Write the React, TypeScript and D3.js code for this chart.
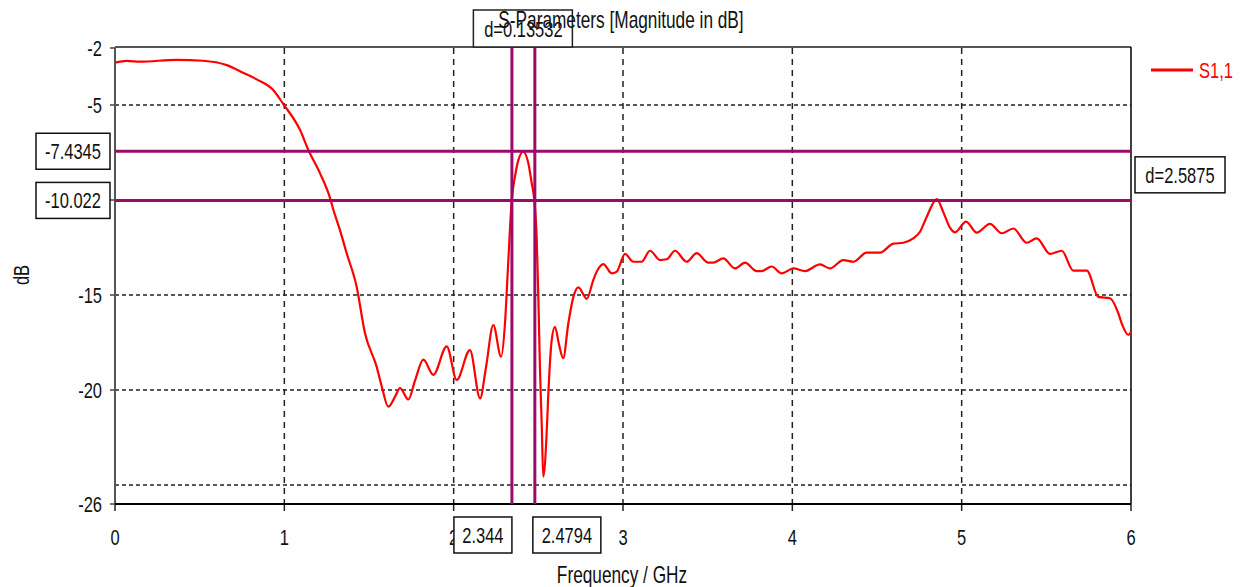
import React from "react";
import * as d3 from "d3";

const freq = [0, 0.069, 0.148, 0.364, 0.52, 0.66, 0.756, 0.837, 0.933, 0.994, 1.093, 1.142, 1.211, 1.27, 1.289, 1.329, 1.368, 1.427, 1.476, 1.545, 1.575, 1.614, 1.654, 1.683, 1.732, 1.772, 1.821, 1.88, 1.959, 2.018, 2.096, 2.156, 2.191, 2.234, 2.28, 2.303, 2.321, 2.343, 2.362, 2.382, 2.411, 2.441, 2.461, 2.476, 2.49, 2.5, 2.51, 2.52, 2.529, 2.549, 2.559, 2.579, 2.598, 2.622, 2.647, 2.677, 2.707, 2.736, 2.786, 2.825, 2.845, 2.884, 2.933, 2.963, 3.012, 3.061, 3.11, 3.159, 3.219, 3.258, 3.307, 3.376, 3.435, 3.504, 3.533, 3.592, 3.661, 3.721, 3.79, 3.819, 3.878, 3.937, 4.006, 4.075, 4.163, 4.222, 4.301, 4.36, 4.439, 4.518, 4.596, 4.655, 4.714, 4.754, 4.794, 4.853, 4.892, 4.931, 4.961, 5.026, 5.089, 5.167, 5.237, 5.305, 5.384, 5.443, 5.522, 5.591, 5.659, 5.739, 5.807, 5.876, 5.925, 5.945, 5.984, 6.0];
const s11 = [-2.77, -2.68, -2.72, -2.62, -2.67, -2.9, -3.3, -3.65, -4.2, -4.95, -6.32, -7.37, -8.6, -9.9, -10.5, -11.6, -12.8, -14.56, -17.0, -18.77, -19.8, -20.88, -20.35, -19.9, -20.5, -19.5, -18.4, -19.2, -17.7, -19.47, -17.9, -20.44, -18.8, -16.58, -18.25, -16.5, -13.5, -10.0, -8.77, -7.9, -7.46, -8.07, -9.12, -10.0, -11.93, -15.1, -19.0, -21.8, -24.56, -22.3, -20.2, -17.37, -16.67, -17.6, -18.33, -16.5, -15.1, -14.6, -15.2, -14.2, -13.77, -13.37, -13.86, -13.77, -12.84, -13.25, -13.25, -12.67, -13.16, -13.12, -12.67, -13.25, -12.8, -13.3, -13.3, -13.07, -13.6, -13.3, -13.74, -13.74, -13.5, -13.86, -13.6, -13.74, -13.39, -13.6, -13.16, -13.25, -12.77, -12.77, -12.3, -12.25, -12.02, -11.67, -10.88, -9.95, -10.65, -11.45, -11.7, -11.14, -11.72, -11.26, -11.75, -11.5, -12.25, -12.02, -12.84, -12.67, -13.72, -13.72, -15.1, -15.17, -15.96, -16.49, -17.1, -16.96];

const xTicks = [0, 1, 2, 3, 4, 5, 6];
const xGrid = [1, 2, 3, 4, 5];
const yTickLabels = [-2, -5, -10, -15, -20, -26];
const yGrid = [-5, -10, -15, -20, -25];
const hMarkers = [-7.4345, -10.022];
const hMarkerLabels = ["-7.4345", "-10.022"];
const vMarkers = [2.344, 2.4794];
const vMarkerLabels = ["2.344", "2.4794"];
const hDeltaLabel = "d=2.5875";
const vDeltaLabel = "d=0.13532";
const title = "S-Parameters [Magnitude in dB]";
const seriesName = "S1,1";

const FONT = "'Liberation Sans', Arial, sans-serif";
const PURPLE = "#9c0a6c";
const SX = 0.75;

function T(props: {
  x: number;
  y: number;
  size?: number;
  anchor?: "start" | "middle" | "end";
  fill?: string;
  rotate?: number;
  children: React.ReactNode;
}) {
  const { x, y, size = 22, anchor = "start", fill = "#111", rotate = 0, children } = props;
  return (
    <text
      transform={`translate(${x},${y}) rotate(${rotate}) scale(${SX},1)`}
      fontSize={size}
      textAnchor={anchor}
      fill={fill}
      fontFamily={FONT}
    >
      {children}
    </text>
  );
}

export default function App() {
  const L = 115, R = 1131, T0 = 48, B = 504;
  const x = d3.scaleLinear().domain([0, 6]).range([L, R]);
  const y = d3.scaleLinear().domain([-26, -2]).range([B, T0]);
  const pts: [number, number][] = freq.map((f, i) => [f, s11[i]]);
  const line = d3
    .line<[number, number]>()
    .x((d) => x(d[0]))
    .y((d) => y(d[1]))
    .curve(d3.curveMonotoneX);

  const hy = hMarkers.map((v) => y(v));
  const vx = vMarkers.map((v) => x(v));
  const hMid = (hy[0] + hy[1]) / 2;
  const vMid = (vx[0] + vx[1]) / 2;

  return (
    <svg width={1244} height={587} style={{ position: "absolute", left: 0, top: 0, background: "#fff" }}>
      <rect x={0} y={0} width={1244} height={587} fill="#fff" />
      {/* grid */}
      {xGrid.map((v) => (
        <line key={"xg" + v} x1={x(v)} x2={x(v)} y1={T0} y2={B} stroke="#222" strokeWidth={1.5} strokeDasharray="6,5" />
      ))}
      {yGrid.map((v) => (
        <line key={"yg" + v} x1={L} x2={R} y1={y(v)} y2={y(v)} stroke="#222" strokeWidth={1.5} strokeDasharray="4,3" />
      ))}
      {/* ticks */}
      {xTicks.map((v) => (
        <line key={"xt" + v} x1={x(v)} x2={x(v)} y1={B} y2={B + 7} stroke="#222" strokeWidth={1.5} />
      ))}
      {yTickLabels.map((v) => (
        <line key={"yt" + v} x1={L - 5} x2={L} y1={y(v)} y2={y(v)} stroke="#444" strokeWidth={1.5} />
      ))}
      {/* frame */}
      <line x1={L} x2={R} y1={T0 - 1} y2={T0 - 1} stroke="#555" strokeWidth={2} />
      <line x1={L} x2={L} y1={T0 - 1} y2={B} stroke="#555" strokeWidth={2} />
      <line x1={L} x2={R} y1={B} y2={B} stroke="#000" strokeWidth={2} />
      <line x1={R} x2={R} y1={T0 - 1} y2={B} stroke="#000" strokeWidth={1.5} />
      {/* tick labels */}
      {xTicks.map((v) => (
        <T key={"xl" + v} x={x(v)} y={545} anchor="middle">
          {v}
        </T>
      ))}
      {yTickLabels.map((v) => (
        <T key={"yl" + v} x={102} y={y(v) + 8} anchor="end">
          {v}
        </T>
      ))}
      {/* curve */}
      <path d={line(pts) || ""} fill="none" stroke="#ff0000" strokeWidth={2.2} />
      {/* markers */}
      {hy.map((yy, i) => (
        <line key={"hm" + i} x1={L} x2={R} y1={yy} y2={yy} stroke={PURPLE} strokeWidth={3} />
      ))}
      {vx.map((xx, i) => (
        <line key={"vm" + i} x1={xx} x2={xx} y1={T0} y2={B} stroke={PURPLE} strokeWidth={3} />
      ))}
      {/* left marker boxes */}
      {hy.map((yy, i) => (
        <g key={"hb" + i}>
          <rect x={36} y={yy - 18} width={74} height={36} fill="#fff" stroke="#111" strokeWidth={1.5} />
          <T x={73} y={yy + 8} anchor="middle">
            {hMarkerLabels[i]}
          </T>
        </g>
      ))}
      {/* right delta box */}
      <rect x={1135} y={hMid - 19} width={90} height={36} fill="#fff" stroke="#111" strokeWidth={1.5} />
      <T x={1180} y={hMid + 7} anchor="middle">
        {hDeltaLabel}
      </T>
      {/* bottom marker boxes */}
      <rect x={vx[0] - 58} y={517} width={58} height={36} fill="#fff" stroke="#111" strokeWidth={1.5} />
      <T x={vx[0] - 29} y={543} anchor="middle">
        {vMarkerLabels[0]}
      </T>
      <rect x={vx[1] - 2} y={517} width={68} height={36} fill="#fff" stroke="#111" strokeWidth={1.5} />
      <T x={vx[1] + 32} y={543} anchor="middle">
        {vMarkerLabels[1]}
      </T>
      {/* top delta box */}
      <rect x={vMid - 50} y={10} width={99} height={37} fill="#fff" stroke="#222" strokeWidth={1.5} />
      <T x={vMid} y={37} anchor="middle">
        {vDeltaLabel}
      </T>
      {/* title */}
      <T x={621} y={28} size={23} anchor="middle">
        {title}
      </T>
      {/* axis titles */}
      <T x={622} y={583} size={23} anchor="middle">
        Frequency / GHz
      </T>
      <T x={29} y={275} size={22} anchor="middle" rotate={-90}>
        dB
      </T>
      {/* legend */}
      <line x1={1151} x2={1193} y1={70} y2={70} stroke="#ff0000" strokeWidth={3} />
      <T x={1199} y={78} fill="#ff0000">
        {seriesName}
      </T>
    </svg>
  );
}
